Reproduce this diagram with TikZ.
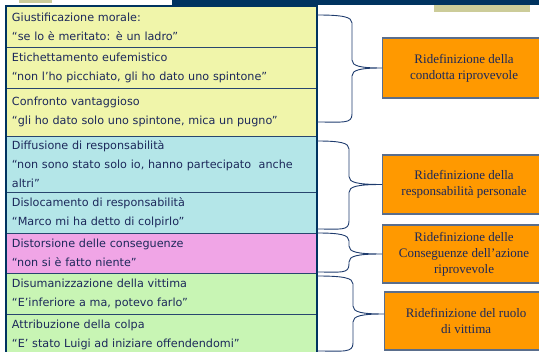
\documentclass[tikz,border=0pt]{standalone}
\usepackage{fontspec}
\setmainfont{Liberation Serif}
\newfontfamily\handfont{DejaVu Sans}
\usepackage{tikz}
\usetikzlibrary{positioning}
\usetikzlibrary{calc}
\definecolor{navyink}{RGB}{28,40,90}
\definecolor{navybar}{RGB}{0,51,96}
\definecolor{tanbar}{RGB}{204,204,153}
\definecolor{rowline}{RGB}{40,70,110}
\definecolor{rowyellow}{RGB}{240,245,170}
\definecolor{rowcyan}{RGB}{180,230,232}
\definecolor{rowpink}{RGB}{240,165,230}
\definecolor{rowgreen}{RGB}{200,245,180}
\definecolor{boxorange}{RGB}{255,153,0}
\definecolor{boxline}{RGB}{90,110,140}
\definecolor{braceline}{RGB}{31,60,110}
\tikzstyle{table_style}=[
	x=1pt,y=-1pt,
	mech/.style={rectangle,draw=rowline,line width=0.8pt,outer sep=0pt,minimum width=311pt,text width=299pt,inner xsep=6pt,inner ysep=0pt,align=left,anchor=north,text=navyink,font=\handfont\fontsize{11.2}{19}\selectfont},
	redef/.style={rectangle,draw=boxline,line width=1.2pt,fill=boxorange,minimum width=163pt,anchor=west,align=center,text=navyink,font=\fontsize{13}{16}\selectfont},
	frame/.style={draw=navybar,line width=1.6pt},
	bracket/.style={draw=braceline,line width=0.9pt}
]
% brace: upper end, lower end, tip, spine distance
\newcommand{\groupbrace}[4]{%
	\draw[bracket] let \p1=(#1), \p2=(#2), \p3=(#3) in
	(\p1) .. controls (\x1+0.75*#4,\y1) and (\x1+#4,\y1-2pt) .. (\x1+#4,\y1-8pt)
	-- (\x1+#4,\y3+8pt) .. controls (\x1+#4,\y3+2pt) and (\x1+#4+8pt,\y3) .. (\p3)
	.. controls (\x1+#4+8pt,\y3) and (\x1+#4,\y3-2pt) .. (\x1+#4,\y3-8pt)
	-- (\x1+#4,\y2+8pt) .. controls (\x1+#4,\y2-2pt) and (\x1+0.75*#4,\y2) .. (\p2);
}

\begin{document}
\begin{tikzpicture}[table_style]
			\useasboundingbox (0,0) rectangle (539,352);
			
			%top bars
			\fill[navybar] (172,0) rectangle (539,5.5);
			\fill[tanbar] (19,0) rectangle (52,3);
			\fill[tanbar] (434,5.5) rectangle (530,12);
			
			%rows
			\node[mech,fill=rowyellow,minimum height=41pt] (giust) at (161.5,6) {Giustificazione morale:\\“se lo è meritato: è un ladro”};
			\node[mech,fill=rowyellow,minimum height=41pt] (etich) [below=0pt of giust] {Etichettamento eufemistico\\“non l’ho picchiato, gli ho dato uno spintone”};
			\node[mech,fill=rowyellow,minimum height=48pt] (confr) [below=0pt of etich] {Confronto vantaggioso\\“gli ho dato solo uno spintone, mica un pugno”};
			\node[mech,fill=rowcyan,minimum height=56pt] (diffus) [below=0pt of confr] {Diffusione di responsabilità\\“non sono stato solo io, hanno partecipato \ anche\\altri”};
			\node[mech,fill=rowcyan,minimum height=41pt] (disloc) [below=0pt of diffus] {Dislocamento di responsabilità\\“Marco mi ha detto di colpirlo”};
			\node[mech,fill=rowpink,minimum height=40pt] (distors) [below=0pt of disloc] {Distorsione delle conseguenze\\“non si è fatto niente”};
			\node[mech,fill=rowgreen,minimum height=41pt] (disuman) [below=0pt of distors] {Disumanizzazione della vittima\\“E’inferiore a ma, potevo farlo”};
			\node[mech,fill=rowgreen,minimum height=41pt] (attrib) [below=0pt of disuman] {Attribuzione della colpa\\“E’ stato Luigi ad iniziare offendendomi”};
			\draw[frame] (giust.north west) rectangle (attrib.south east);
			
			%boxes
			\node[redef,minimum height=60pt] (condotta) at (382,68) {Ridefinizione della\\condotta riprovevole};
			\node[redef,minimum height=59pt] (respons) at (382,184.5) {Ridefinizione della\\responsabilità personale};
			\node[redef,minimum height=58pt] (consegu) at (382,254) {Ridefinizione delle\\Conseguenze dell’azione\\riprovevole};
			\node[redef,minimum height=58pt] (ruolo) at (384,321) {Ridefinizione del ruolo\\di vittima};
			
			%braces
			\coordinate (c1a) at ([yshift=-9pt]giust.north east);
			\coordinate (c1b) at ([yshift=14pt]confr.south east);
			\coordinate (c2a) at ([yshift=-5pt]diffus.north east);
			\coordinate (c2b) at ([yshift=4pt]disloc.south east);
			\coordinate (c3a) at (distors.north east);
			\coordinate (c3b) at ([yshift=1pt]distors.south east);
			\coordinate (c4a) at ([yshift=-3pt]disuman.north east);
			\coordinate (c4b) at ([yshift=4pt]attrib.south east);
			\coordinate (t4) at (384,314);
			\groupbrace{c1a}{c1b}{condotta.west}{35pt}
			\groupbrace{c2a}{c2b}{respons.west}{32pt}
			\groupbrace{c3a}{c3b}{consegu.west}{32pt}
			\groupbrace{c4a}{c4b}{t4}{36pt}
			
\end{tikzpicture}
\end{document}
